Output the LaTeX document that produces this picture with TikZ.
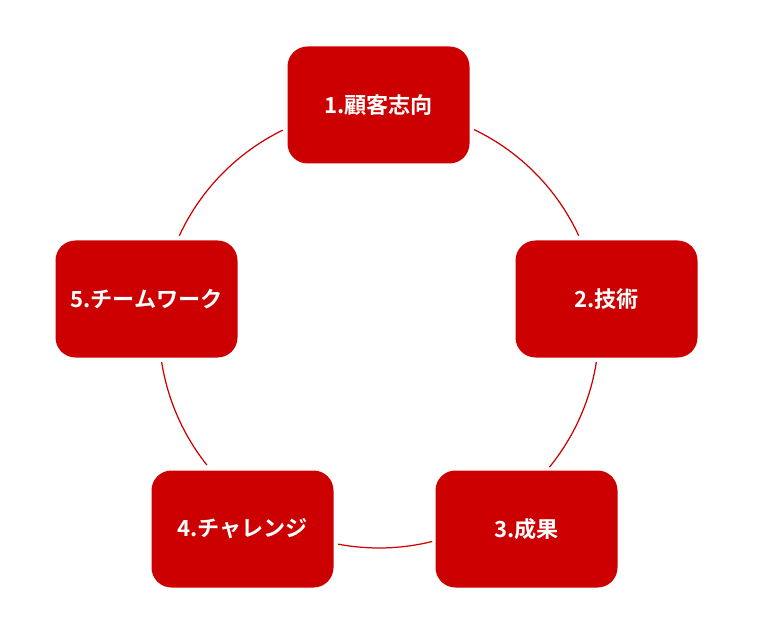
\documentclass[tikz,border=0pt]{standalone}
\usepackage{fontspec}
\newfontfamily\jpfont{Noto Sans CJK JP}[BoldFont={Noto Sans CJK JP Bold}]
\definecolor{boxred}{HTML}{CC0000}
\begin{document}
\begin{tikzpicture}[
  stagebox/.style={fill=boxred, rounded corners=0.2cm, minimum width=1.82cm,
    minimum height=1.17cm, inner sep=0pt, text=white,
    font=\jpfont\bfseries\fontsize{6.3pt}{7.5pt}\selectfont},
  ringline/.style={boxred, line width=0.35pt}]
  \useasboundingbox (0,0) rectangle (7.6,6.38);
  \coordinate (ring) at (3.79,3.10);
  \def\R{2.2}
  % arcs of the cycle
  \draw[ringline] (ring) ++(64.4:\R) arc[start angle=64.4, end angle=24.8, radius=\R];
  \draw[ringline] (ring) ++(-8.9:\R) arc[start angle=-8.9, end angle=-39.2, radius=\R];
  \draw[ringline] (ring) ++(-76:\R) arc[start angle=-76, end angle=-100.7, radius=\R];
  \draw[ringline] (ring) ++(-141.5:\R) arc[start angle=-141.5, end angle=-171.1, radius=\R];
  \draw[ringline] (ring) ++(155.2:\R) arc[start angle=155.2, end angle=115.9, radius=\R];
  % stages
  \node[stagebox] (customer) at (3.785,5.33) {1.顧客志向};
  \node[stagebox] (skill) at (6.065,3.39) {2.技術};
  \node[stagebox] (result) at (5.265,1.09) {3.成果};
  \node[stagebox] (challenge) at (2.425,1.09) {4.チャレンジ};
  \node[stagebox] (teamwork) at (1.465,3.39) {5.チームワーク};
\end{tikzpicture}
\end{document}
